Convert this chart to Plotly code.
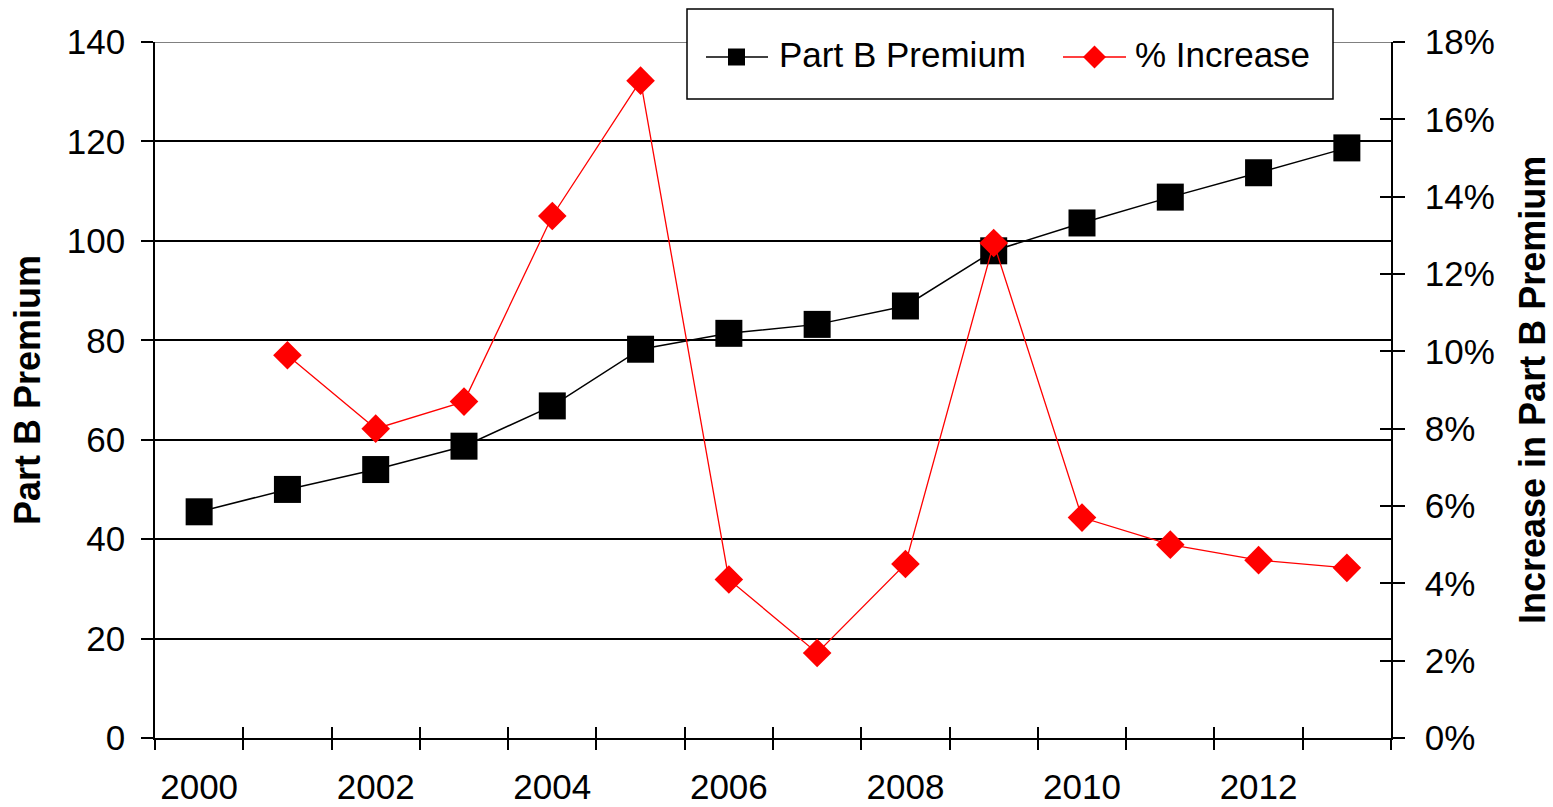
import plotly.graph_objects as go

# Medicare Part B monthly premium and year-over-year change
years = list(range(2000, 2014))
premium = [45.5, 50.0, 54.0, 58.7, 66.8, 78.2, 81.4, 83.2, 86.9, 98.0, 103.6, 108.8, 113.7, 118.7]
pct_increase = [None, 0.099, 0.080, 0.087, 0.135, 0.170, 0.041, 0.022, 0.045, 0.128, 0.057, 0.050, 0.046, 0.044]

series_names = ["Part B Premium", "% Increase"]
series_colors = ["black", "red"]

year_labels = [2000, 2002, 2004, 2006, 2008, 2010, 2012]
left_ticks = list(range(0, 141, 20))
right_ticks = [i / 100 for i in range(0, 19, 2)]
boundaries = [y - 0.5 for y in years] + [years[-1] + 0.5]

FONT = "Liberation Sans, Arial, sans-serif"
W, H = 1553, 807
ML, MR, MT, MB = 155, 162, 42, 69
PW, PH = W - ML - MR, H - MT - MB
xr = [years[0] - 0.5, years[-1] + 0.5]


def px(x):
    """pixel column -> paper x"""
    return (x - ML) / PW


def py(y):
    """pixel row -> paper y"""
    return (H - MB - y) / PH


fig = go.Figure()
fig.add_trace(go.Scatter(
    x=years, y=premium, name=series_names[0], mode="lines+markers",
    line=dict(color=series_colors[0], width=1.5),
    marker=dict(symbol="square", size=27, color=series_colors[0]),
    xaxis="x", yaxis="y",
))
fig.add_trace(go.Scatter(
    x=years, y=pct_increase, name=series_names[1], mode="lines+markers",
    line=dict(color=series_colors[1], width=1.3),
    marker=dict(symbol="diamond", size=22, color=series_colors[1]),
    xaxis="x", yaxis="y2",
))
# empty traces so the tick-only overlay axes get drawn
for xa, ya in [("x2", "y"), ("x3", "y"), ("x", "y3"), ("x", "y4")]:
    fig.add_trace(go.Scatter(x=[], y=[], xaxis=xa, yaxis=ya,
                             showlegend=False, hoverinfo="skip"))

tickfont = dict(family=FONT, size=35, color="black")
tick_only = dict(showticklabels=False, showgrid=False, zeroline=False,
                 showline=False, automargin=False,
                 tickwidth=1.5, tickcolor="black", tickmode="array")

# legend drawn as a framed box with line/marker swatches
lg_y = 57
legend_shapes = [
    dict(type="rect", xref="paper", yref="paper",
         x0=px(687), x1=px(1333), y0=py(99), y1=py(9),
         line=dict(color="black", width=1.5), fillcolor="white", layer="above"),
    dict(type="line", xref="paper", yref="paper",
         x0=px(706), x1=px(768), y0=py(lg_y), y1=py(lg_y),
         line=dict(color=series_colors[0], width=1.5), layer="above"),
    dict(type="rect", xref="paper", yref="paper",
         x0=px(728), x1=px(745), y0=py(lg_y + 8.5), y1=py(lg_y - 8.5),
         line=dict(width=0), fillcolor=series_colors[0], layer="above"),
    dict(type="line", xref="paper", yref="paper",
         x0=px(1063), x1=px(1126), y0=py(lg_y), y1=py(lg_y),
         line=dict(color=series_colors[1], width=1.3), layer="above"),
    dict(type="path", xref="paper", yref="paper",
         path="M {a},{b} L {c},{d} L {e},{b} L {c},{f} Z".format(
             a=px(1083), b=py(lg_y), c=px(1094.5), d=py(lg_y - 11.5),
             e=px(1106), f=py(lg_y + 11.5)),
         line=dict(width=0), fillcolor=series_colors[1], layer="above"),
]

legend_text = [
    dict(text=series_names[0], xref="paper", yref="paper",
         x=px(777), y=py(54), xanchor="left", yanchor="middle",
         showarrow=False, font=dict(family=FONT, size=35, color="black")),
    dict(text=series_names[1], xref="paper", yref="paper",
         x=px(1133), y=py(54), xanchor="left", yanchor="middle",
         showarrow=False, font=dict(family=FONT, size=35, color="black")),
]

fig.update_layout(
    width=W, height=H,
    margin=dict(l=ML, r=MR, t=MT, b=MB, autoexpand=False),
    paper_bgcolor="white", plot_bgcolor="white",
    font=dict(family=FONT, color="black"),
    showlegend=False,
    xaxis=dict(
        range=xr, tickmode="array", tickvals=year_labels,
        ticktext=[str(y) for y in year_labels],
        ticks="", showgrid=False, zeroline=False, automargin=False,
        showline=True, linecolor="black", linewidth=1.5,
        tickfont=tickfont, ticklabelstandoff=17,
    ),
    xaxis2=dict(range=xr, overlaying="x", anchor="y", side="bottom",
                tickvals=boundaries, ticks="outside", ticklen=11, **tick_only),
    xaxis3=dict(range=xr, overlaying="x", anchor="y", side="bottom",
                tickvals=boundaries, ticks="inside", ticklen=11, **tick_only),
    yaxis=dict(
        range=[0, 140], tickmode="array", tickvals=left_ticks,
        ticks="outside", ticklen=12, tickwidth=1.5, tickcolor="black",
        showgrid=True, gridcolor="black", gridwidth=1.5, automargin=False,
        zeroline=False, showline=True, linecolor="black", linewidth=1.5,
        tickfont=tickfont, ticklabelstandoff=9,
    ),
    yaxis2=dict(
        range=[0, 0.18], overlaying="y", side="right", anchor="x",
        tickmode="array", tickvals=right_ticks, tickformat=".0%",
        ticks="outside", ticklen=12, tickwidth=1.5, tickcolor="black",
        showgrid=False, zeroline=False, automargin=False,
        showline=True, linecolor="black", linewidth=1.5,
        tickfont=tickfont, ticklabelstandoff=13,
    ),
    yaxis3=dict(range=[0, 140], overlaying="y", side="left", anchor="x",
                tickvals=left_ticks, ticks="inside", ticklen=11, **tick_only),
    yaxis4=dict(range=[0, 0.18], overlaying="y", side="right", anchor="x",
                tickvals=right_ticks, ticks="inside", ticklen=11, **tick_only),
    shapes=[dict(
        type="line", xref="paper", x0=0, x1=1, yref="y", y0=140, y1=140,
        line=dict(color="#808080", width=2), layer="above",
    )] + legend_shapes,
    annotations=[
        dict(text="<b>Part B Premium</b>", textangle=-90,
             xref="paper", yref="paper", x=px(27), y=0.5,
             xanchor="center", yanchor="middle", showarrow=False,
             font=dict(family=FONT, size=36, color="black")),
        dict(text="<b>Increase in Part B Premium</b>", textangle=-90,
             xref="paper", yref="paper", x=px(1532), y=0.5,
             xanchor="center", yanchor="middle", showarrow=False,
             font=dict(family=FONT, size=36, color="black")),
    ] + legend_text,
)

fig.write_html("out.html")
